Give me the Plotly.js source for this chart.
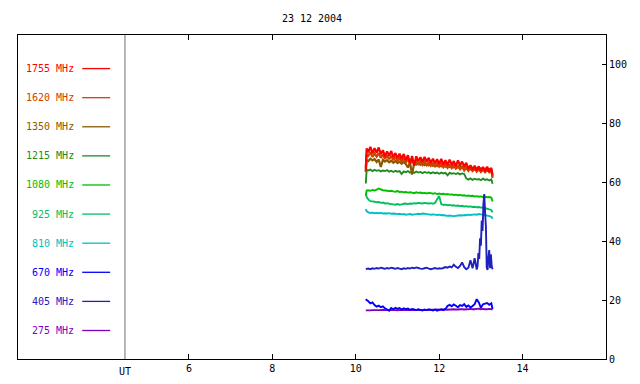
<!DOCTYPE html>
<html>
<head>
<meta charset="utf-8">
<script src="https://cdn.plot.ly/plotly-3.0.1.min.js"></script>
<style>html,body{margin:0;padding:0;background:#fff;}#chart{width:640px;height:384px;}</style>
</head>
<body>
<div id="chart"></div>
<script>
// Time axis (UT hours)
const tA = [10.24,10.26,
10.30,10.35,10.40,10.45,10.50,10.55,10.60,10.65,10.70,10.75,
10.80,10.85,10.90,10.95,11.00,11.05,11.10,11.15,11.20,11.25,
11.30,11.35,11.40,11.45,11.50,11.55,11.60,11.65,11.70,11.75,
11.80,11.85,11.90,11.95,12.00,12.05,12.10,12.15,12.20,12.25,
12.30,12.35,12.40,12.45,12.50,12.55,12.60,12.65,12.70,12.75,
12.80,12.85,12.90,12.95,13.00,13.05,13.10,13.15,13.20,13.25,
13.28];

const t405 = [10.24,10.26,
10.30,10.35,10.40,10.45,10.50,10.55,10.60,10.65,10.70,10.75,
10.80,10.85,10.90,10.95,11.00,11.05,11.10,11.15,11.20,11.25,
11.30,11.35,11.40,11.45,11.50,11.55,11.60,11.65,11.70,11.75,
11.80,11.85,11.90,11.95,12.00,12.05,12.10,12.15,12.20,12.25,
12.30,12.35,12.40,12.45,12.50,12.55,12.60,12.65,12.70,12.75,
12.80,12.85,
12.90,12.92,12.94,12.96,12.98,13.00,13.02,13.04,13.06,13.08,
13.10,13.12,13.14,13.16,13.18,13.20,13.22,13.24,13.26,13.28];

const f1755 = [64.0,71.5,
70.2,72.0,69.8,71.6,70.0,71.8,69.5,70.9,68.8,70.5,
69.0,70.6,68.5,69.9,68.2,69.7,67.9,69.6,67.5,69.2,
66.4,68.9,65.6,68.8,67.2,68.5,66.9,68.6,67.0,68.3,
66.6,68.0,66.5,67.8,66.2,67.9,66.0,67.5,65.8,67.7,
65.9,67.2,65.5,67.4,65.7,67.0,65.4,66.6,64.5,65.8,
64.2,65.6,64.0,65.4,63.8,65.2,63.7,65.3,63.6,64.9,
62.5];

const f1620 = [65.0,69.5,
69.0,70.2,68.6,69.8,68.7,69.9,68.3,69.4,67.9,69.1,
67.8,69.0,67.5,68.6,67.2,68.4,67.0,68.2,66.7,67.9,
66.3,67.6,66.0,67.3,66.2,67.1,65.9,67.0,65.8,66.8,
65.6,66.5,65.4,66.4,65.3,66.2,65.1,66.0,64.9,65.8,
64.8,65.7,64.6,65.5,64.4,65.3,64.0,65.0,63.9,64.8,
63.8,64.6,63.6,64.5,63.5,64.3,63.4,64.2,63.4,64.1,
62.0];

const f1350 = [63.5,67.5,
67.2,68.0,67.4,67.9,66.9,67.7,65.2,67.6,67.0,67.5,
66.8,67.3,66.6,67.2,66.5,67.0,66.3,66.9,66.2,65.0,
66.7,62.6,66.5,66.0,66.6,65.9,66.4,65.8,66.3,65.7,
66.2,65.6,66.1,65.5,66.0,65.4,65.9,65.3,65.8,65.2,
65.7,65.1,65.6,65.0,65.5,64.9,65.3,64.6,65.0,64.4,
64.9,64.3,64.8,64.2,64.7,64.1,64.6,64.0,64.5,64.0,
61.5];

const f1215 = [59.6,64.2,
64.0,64.3,63.8,64.2,63.9,64.1,63.7,64.0,63.8,64.1,
63.6,63.9,63.5,63.9,63.6,63.8,62.8,63.7,63.4,63.8,
63.3,63.6,63.2,63.6,63.3,63.5,63.1,63.5,63.2,63.4,
63.0,63.4,63.1,63.3,62.9,63.3,63.0,63.2,62.4,63.2,
62.9,63.1,62.8,63.1,62.7,63.0,62.8,61.3,60.9,61.3,
60.8,61.2,60.9,61.1,60.7,61.2,60.8,61.0,60.6,61.0,
59.5];

const f1080 = [55.5,57.2,
57.3,57.1,57.4,57.2,57.5,57.9,57.6,57.3,57.2,57.1,
57.0,57.1,56.9,56.8,57.0,56.7,56.8,56.6,56.7,56.5,
56.6,56.5,56.3,56.6,56.4,56.5,56.3,56.4,56.2,56.4,
56.3,56.1,56.3,56.0,56.2,56.0,56.1,55.9,56.0,55.8,
55.9,55.7,55.8,55.6,55.7,55.5,55.6,55.4,55.5,55.3,
55.4,55.2,55.3,55.1,55.2,55.0,55.1,54.9,55.0,54.8,
53.5];

const f925 = [56.2,55.0,
54.2,53.6,53.5,53.4,53.2,53.3,53.0,53.1,52.8,52.9,
52.7,52.6,52.5,52.4,52.6,52.4,52.5,52.7,52.8,52.6,
52.8,52.7,52.9,52.8,53.0,52.9,52.8,53.0,52.9,52.8,
52.9,52.7,53.0,54.2,55.3,52.6,52.3,52.4,52.2,52.3,
52.1,52.2,52.0,52.1,51.9,52.0,51.8,51.9,51.7,51.8,
51.6,51.7,51.5,51.6,51.4,51.5,51.2,51.0,50.8,50.6,
49.8];

const f810 = [50.9,50.2,
49.8,49.6,49.7,49.5,49.6,49.5,49.6,49.4,49.5,49.4,
49.5,49.3,49.4,49.3,49.2,49.3,49.1,49.2,49.0,49.1,
49.2,49.0,49.1,49.2,49.3,49.2,49.4,49.3,49.2,49.1,
49.0,49.1,49.0,48.9,49.0,48.8,48.9,48.7,48.6,48.7,
48.6,48.5,48.6,48.7,48.8,48.7,48.9,48.8,49.0,48.9,
49.0,49.1,49.0,49.2,49.1,49.0,48.9,48.7,48.5,48.3,
47.6];

const f670 = [20.3,20.0,
19.6,18.9,19.2,18.3,17.8,18.1,17.6,17.9,17.2,16.8,
16.4,17.3,16.9,17.4,17.0,17.3,16.8,17.2,16.9,17.1,
16.7,17.0,16.8,16.6,16.9,16.7,16.5,16.8,16.6,16.9,
16.7,16.5,16.8,16.4,16.7,16.9,16.6,17.0,18.0,18.4,
17.9,18.5,18.1,17.6,18.3,18.0,18.6,17.7,18.2,17.5,
18.0,18.6,20.3,19.2,17.4,18.6,18.8,19.0,18.4,18.9,
17.0];

const f405 = [30.5,30.6,
30.7,30.5,30.8,30.6,30.9,30.7,31.0,30.8,30.6,30.9,
30.7,31.0,30.8,30.6,30.9,30.7,30.5,30.8,30.6,30.9,
30.7,31.0,30.8,31.1,30.9,30.7,30.6,30.8,31.0,30.7,
30.5,30.7,30.9,30.6,30.8,30.7,30.9,31.2,31.0,31.4,
31.1,32.0,31.3,30.9,31.6,32.8,31.2,30.5,31.0,33.5,
30.8,34.2,
30.4,31.5,36.0,34.0,41.0,38.5,47.0,43.5,52.5,56.0,
50.0,45.0,31.0,30.2,34.5,37.0,30.8,35.5,31.5,30.5];

const f275 = [16.5,16.5,
16.5,16.5,16.6,16.6,16.6,16.6,16.6,16.7,16.6,16.6,
16.6,16.6,16.6,16.6,16.5,16.6,16.6,16.6,16.6,16.6,
16.6,16.6,16.6,16.6,16.7,16.6,16.6,16.6,16.6,16.6,
16.7,16.7,16.7,16.8,16.7,16.7,16.8,16.8,16.7,16.8,
16.8,16.9,16.8,16.8,16.9,16.9,16.8,16.9,16.9,17.0,
16.9,16.9,17.0,17.1,16.9,17.0,16.9,16.9,17.0,16.9,
16.9];

const xTicks = [6, 8, 10, 12, 14];
const yTicks = [0, 20, 40, 60, 80, 100];
const titleText = "23 12 2004";

// Legend order (top to bottom) and colours
const legendLabels = ["1755 MHz","1620 MHz","1350 MHz","1215 MHz","1080 MHz","925 MHz","810 MHz","670 MHz","405 MHz","275 MHz"];
const colors = {
  "1755":"#ff0000","1620":"#cc4400","1350":"#8b5a00","1215":"#228b22","1080":"#00c000",
  "925":"#00c060","810":"#00c0c0","670":"#0000ff","405":"#2020c0","275":"#8000c0"
};

const seriesDraw = [
  ["275", tA, f275], ["810", tA, f810], ["925", tA, f925], ["1080", tA, f1080],
  ["1215", tA, f1215], ["670", tA, f670], ["405", t405, f405],
  ["1350", tA, f1350], ["1620", tA, f1620], ["1755", tA, f1755]
];

const traces = seriesDraw.map(([k, x, y]) => ({
  type: "scatter", mode: "lines", x: x, y: y, name: k + " MHz",
  line: {color: colors[k], width: (k === "1755" || k === "1620" || k === "1350") ? 2.2 : 1.9, simplify: false},
  showlegend: false, hoverinfo: "skip"
}));

const FONT = "DejaVu Sans Mono, monospace";
const UT_X = 4.465;

const annotations = [];
const shapes = [];
legendLabels.forEach((lab, i) => {
  const key = lab.split(" ")[0];
  const yv = 98.6 - i * 9.88;
  annotations.push({
    xref: "x", yref: "y", x: 3.3, y: yv, xanchor: "right", yanchor: "middle",
    text: lab, showarrow: false, font: {family: FONT, size: 10, color: colors[key]}
  });
  shapes.push({
    type: "line", xref: "x", yref: "y", x0: 3.44, x1: 4.11, y0: yv, y1: yv,
    line: {color: colors[key], width: 1.3}
  });
});
shapes.push({type: "line", xref: "x", yref: "paper", x0: UT_X, x1: UT_X, y0: 0, y1: 1,
  line: {color: "#707070", width: 1}});
annotations.push({xref: "x", yref: "paper", x: UT_X, y: 0, yanchor: "top", xanchor: "center",
  yshift: -5, text: "UT", showarrow: false, font: {family: FONT, size: 10, color: "#000"}});

const layout = {
  width: 640, height: 384,
  margin: {l: 18, r: 34, t: 35, b: 25, pad: 0},
  paper_bgcolor: "#fff", plot_bgcolor: "#fff",
  font: {family: FONT, size: 10, color: "#000"},
  title: {text: titleText, x: 0.5, xref: "paper", y: 1 - 18/384, yref: "container",
    yanchor: "middle", xanchor: "center", font: {family: FONT, size: 10, color: "#000"}},
  xaxis: {range: [1.9, 16.0], tickvals: xTicks, ticktext: xTicks.map(String),
    ticks: "inside", ticklen: 5, tickcolor: "#000", tickwidth: 1,
    showline: true, linecolor: "#000", linewidth: 1, mirror: "ticks",
    showgrid: false, zeroline: false, fixedrange: true,
    tickfont: {family: FONT, size: 10, color: "#000"}},
  yaxis: {range: [0, 110], side: "right", tickvals: yTicks, ticktext: yTicks.map(String),
    ticks: "inside", ticklen: 4, tickcolor: "#000", tickwidth: 1,
    showline: true, linecolor: "#000", linewidth: 1, mirror: true,
    showgrid: false, zeroline: false, fixedrange: true,
    tickfont: {family: FONT, size: 10, color: "#000"}},
  annotations: annotations,
  shapes: shapes,
  showlegend: false
};

Plotly.newPlot("chart", traces, layout, {staticPlot: true, displayModeBar: false});
</script>
</body>
</html>
